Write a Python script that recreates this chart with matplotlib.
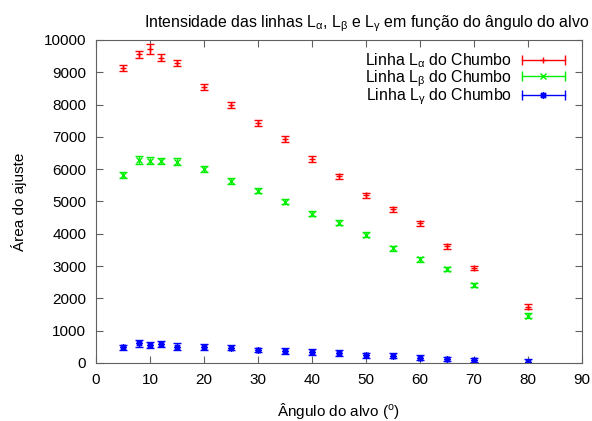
import matplotlib
matplotlib.use("Agg")
import matplotlib.pyplot as plt
from matplotlib.lines import Line2D
from matplotlib.legend_handler import HandlerBase

plt.rcParams['font.family'] = ['Liberation Sans', 'DejaVu Sans']
plt.rcParams['mathtext.fontset'] = 'custom'
plt.rcParams['mathtext.rm'] = 'Liberation Sans'
plt.rcParams['mathtext.it'] = 'Liberation Sans:italic'

angulo = [5, 8, 10, 12, 15, 20, 25, 30, 35, 40, 45, 50, 55, 60, 65, 70, 80]

area_alpha = [9130, 9560, 9720, 9445, 9290, 8545, 7980, 7430, 6935, 6305, 5780,
              5190, 4755, 4325, 3610, 2940, 1745]
erro_alpha = [100, 110, 150, 110, 100, 100, 100, 90, 90, 90, 85, 80, 80, 80, 75, 70, 70]

area_beta = [5820, 6285, 6265, 6245, 6235, 5995, 5635, 5335, 4995, 4615, 4345,
             3965, 3550, 3210, 2910, 2415, 1465]
erro_beta = [80, 110, 100, 100, 100, 90, 90, 80, 80, 80, 80, 75, 75, 70, 70, 65, 70]

area_gama = [485, 610, 550, 590, 505, 495, 475, 400, 380, 340, 305,
             230, 225, 165, 115, 95, 40]
erro_gama = [70, 110, 90, 100, 100, 90, 90, 70, 90, 80, 80, 80, 70, 70, 60, 70, 90]

series = [
    (area_alpha, erro_alpha, '#ff0000', '+', r'Linha L$_\mathregular{α}$ do Chumbo'),
    (area_beta, erro_beta, '#00ee00', 'x', r'Linha L$_\mathregular{β}$ do Chumbo'),
    (area_gama, erro_gama, '#0000ff', (8, 2, 0), r'Linha L$_\mathregular{γ}$ do Chumbo'),
]


class HandlerBarraH(HandlerBase):
    # amostra da legenda: barra horizontal com tracos nas pontas e o simbolo ao meio
    def create_artists(self, legend, orig_handle, xdescent, ydescent,
                       width, height, fontsize, trans):
        c = orig_handle.get_color()
        y = height / 2 - ydescent
        x0, x1 = -xdescent, width - xdescent
        linha = Line2D([x0, x1], [y, y], color=c, lw=1, transform=trans)
        pontas = Line2D([x0, x1], [y, y], ls='none', marker='|', ms=7,
                        mew=1, color=c, transform=trans)
        marca = Line2D([(x0 + x1) / 2], [y], ls='none', marker=orig_handle.get_marker(),
                       ms=5, mew=1, color=c, transform=trans)
        return [linha, pontas, marca]


fig = plt.figure(figsize=(5.92, 4.21), dpi=100)
ax = fig.add_axes([0.162, 0.138, 0.821, 0.767])

handles = []
for y, e, cor, marc, rot in series:
    ax.errorbar(angulo, y, yerr=e, fmt='none', ecolor=cor, elinewidth=1,
                capsize=3, capthick=1)
    ax.plot(angulo, y, ls='none', marker=marc, color=cor, ms=5, mew=1)
    handles.append(Line2D([], [], color=cor, marker=marc, label=rot))

ax.set_xlim(0, 90)
ax.set_ylim(0, 10000)
ax.set_xticks(range(0, 91, 10))
ax.set_yticks(range(0, 10001, 1000))
ax.tick_params(direction='in', length=5, top=True, right=True, labelsize=11,
               color='#606060', pad=7)
for s in ax.spines.values():
    s.set_color('#606060')

ax.set_title(r'Intensidade das linhas L$_\mathregular{α}$, L$_\mathregular{β}$ e '
             r'L$_\mathregular{γ}$ em função do ângulo do alvo', fontsize=11.4,
             x=0.556, pad=9)
ax.set_xlabel(r'Ângulo do alvo ($^\mathregular{o}$)', fontsize=11, labelpad=10)
ax.set_ylabel('Área do ajuste', fontsize=11, labelpad=12)

ax.legend(handles=handles, handler_map={Line2D: HandlerBarraH()}, loc='upper right',
          bbox_to_anchor=(1.0, 1.018), frameon=False, markerfirst=False,
          fontsize=11.4, handlelength=2.7, handletextpad=0.6, labelspacing=-0.15,
          borderaxespad=0.9, borderpad=0.2)

fig.savefig('out.png', dpi=100)
